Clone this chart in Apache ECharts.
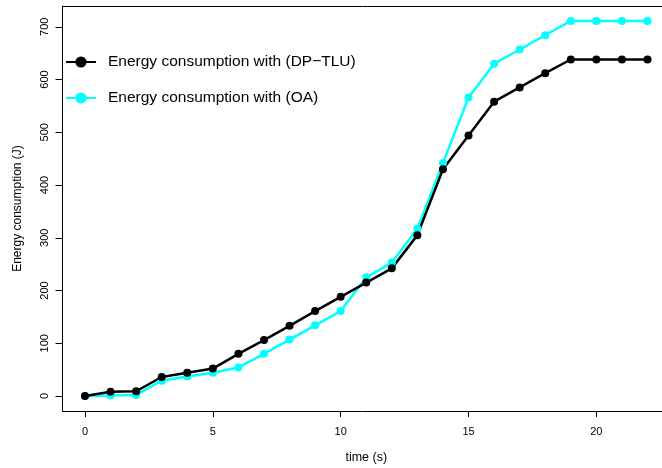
<!DOCTYPE html>
<html>
<head>
<meta charset="utf-8">
<script src="https://cdn.jsdelivr.net/npm/echarts@6/dist/echarts.min.js"></script>
<style>
html,body{margin:0;padding:0;background:#fff;}
#chart{width:662px;height:468px;}
</style>
</head>
<body>
<div id="chart"></div>
<script>
const times = [0,1,2,3,4,5,6,7,8,9,10,11,12,13,14,15,16,17,18,19,20,21,22];
const dpTlu = [0,8,9,36,44,52,80,106,133,161,188,215,242,305,430,494,558,585,612,638,638,638,638];
const oa    = [0,1,2,29,37,44,54,80,107,134,161,225,253,317,442,566,630,657,684,711,711,711,711];
const xTicks = [0,5,10,15,20];
const yTicks = [0,100,200,300,400,500,600,700];
const nameDP = 'Energy consumption with (DP\u2212TLU)';
const nameOA = 'Energy consumption with (OA)';

const font = 'Liberation Sans, Arial, Helvetica, sans-serif';
const xMin = -0.88, xMax = 22.88, yMin = -28.44, yMax = 739.44;
const chart = echarts.init(document.getElementById('chart'));
chart.setOption({
  animation: false,
  backgroundColor: '#fff',
  grid: {left: 62.5, width: 607.5, top: 6, bottom: 57, show: false,
         containLabel: false, outerBoundsMode: 'none'},
  legend: {
    orient: 'vertical', left: 65, top: 54, padding: 0, itemWidth: 30, itemHeight: 14, itemGap: 20,
    data: [nameDP, nameOA],
    textStyle: {fontFamily: font, fontSize: 15.5, color: '#000', padding: [0,0,0,7]}
  },
  xAxis: [{
    type: 'value', min: xMin, max: xMax, position: 'bottom',
    name: 'time (s)', nameLocation: 'middle', nameGap: 40,
    nameTextStyle: {fontFamily: font, fontSize: 12.5, color: '#000'},
    axisLine: {show: true, onZero: false, lineStyle: {color: '#000', width: 1}},
    splitLine: {show: false},
    axisTick: {show: true, inside: false, length: 6, customValues: xTicks, lineStyle: {color: '#000', width: 1}},
    axisLabel: {customValues: xTicks, fontFamily: font, fontSize: 11, color: '#000', margin: 15}
  }, {
    type: 'value', min: xMin, max: xMax, position: 'top',
    axisLine: {show: true, onZero: false, lineStyle: {color: '#000', width: 1}},
    splitLine: {show: false}, axisTick: {show: false}, axisLabel: {show: false}
  }],
  yAxis: {
    type: 'value', min: yMin, max: yMax, position: 'left',
    name: 'Energy consumption (J)', nameLocation: 'middle', nameGap: 39, nameRotate: 90,
    nameTextStyle: {fontFamily: font, fontSize: 12, color: '#000'},
    axisLine: {show: true, onZero: false, lineStyle: {color: '#000', width: 1}},
    splitLine: {show: false},
    axisTick: {show: true, inside: false, length: 7, customValues: yTicks, lineStyle: {color: '#000', width: 1}},
    axisLabel: {customValues: yTicks, rotate: 90, fontFamily: font, fontSize: 11, color: '#000', margin: 12}
  },
  series: [
    {
      name: nameOA, type: 'line', data: times.map((t,i)=>[t, oa[i]]),
      symbol: 'circle', symbolSize: 8, color: '#00ffff',
      lineStyle: {width: 2.5, color: '#00ffff'}, itemStyle: {color: '#00ffff'}
    },
    {
      name: nameDP, type: 'line', data: times.map((t,i)=>[t, dpTlu[i]]),
      symbol: 'circle', symbolSize: 8, color: '#000',
      lineStyle: {width: 2.5, color: '#000'}, itemStyle: {color: '#000'}
    }
  ]
});
</script>
</body>
</html>
